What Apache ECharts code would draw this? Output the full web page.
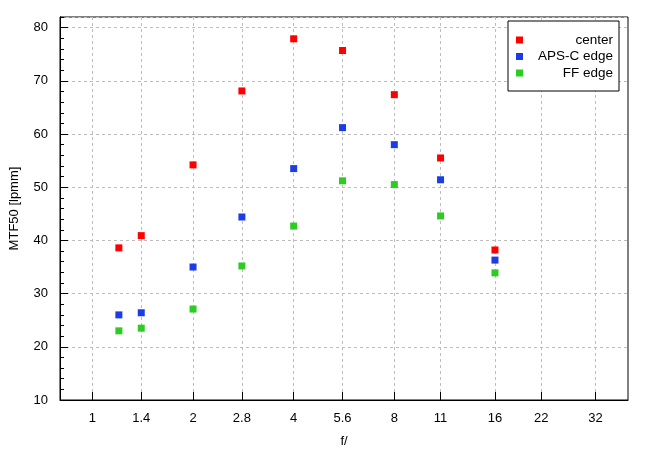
<!DOCTYPE html>
<html><head><meta charset="utf-8">
<script src="https://cdn.jsdelivr.net/npm/echarts@6/dist/echarts.min.js"></script>
<style>html,body{margin:0;padding:0;background:#fff}#c{width:650px;height:455px}</style>
</head><body><div id="c"></div>
<script>
const apertures = [1.2, 1.4, 2, 2.8, 4, 5.6, 8, 11, 16];
const centerValues = [38.6, 40.9, 54.2, 68.1, 77.9, 75.7, 67.4, 55.5, 38.2];
const apscValues = [26.0, 26.4, 35.0, 44.4, 53.5, 61.2, 58.0, 51.4, 36.3];
const ffValues = [23.0, 23.5, 27.1, 35.2, 42.7, 51.2, 50.5, 44.6, 33.9];
const xTicks = [1, 1.4, 2, 2.8, 4, 5.6, 8, 11, 16, 22, 32];
const xTickLabels = ['1', '1.4', '2', '2.8', '4', '5.6', '8', '11', '16', '22', '32'];
const seriesNames = ['center', 'APS-C edge', 'FF edge'];
const seriesColors = ['#ff0000', '#1c3ce6', '#2ccc22'];

const FONT = 'Liberation Sans';
const FS = 13;
const chart = echarts.init(document.getElementById('c'));
const allValues = [centerValues, apscValues, ffValues];
const gridLine = { show: true, lineStyle: { color: '#bdbdbd', width: 1, type: [3, 3] } };

chart.setOption({
  animation: false,
  backgroundColor: '#fff',
  textStyle: { fontFamily: FONT },
  grid: { left: 60, right: 22, top: 17, bottom: 55, show: true, borderColor: '#000', borderWidth: 1, backgroundColor: 'transparent' },
  legend: {
    orient: 'vertical', left: 508, top: 21,
    padding: [12, 6, 11, 8], itemGap: 2.5, itemWidth: 7, itemHeight: 7,
    icon: 'rect', backgroundColor: '#fff', borderColor: '#000', borderWidth: 1, borderRadius: 0,
    data: seriesNames,
    itemStyle: { opacity: 1 },
    formatter: n => '{a|' + n + '}',
    textStyle: { rich: { a: { width: 85, align: 'right', fontSize: 13.5, fontFamily: FONT, color: '#000', lineHeight: 13 } } }
  },
  xAxis: {
    type: 'log', logBase: 2, min: 0.8, max: 40,
    name: 'f/', nameLocation: 'middle', nameGap: 35,
    nameTextStyle: { fontSize: FS, fontFamily: FONT, color: '#000' },
    axisLine: { show: true, lineStyle: { color: '#000', width: 1 } },
    axisTick: { show: true, inside: true, length: 8, customValues: xTicks, lineStyle: { color: '#000' } },
    axisLabel: {
      customValues: xTicks, margin: 12, fontSize: FS, fontFamily: FONT, color: '#000',
      formatter: v => { const i = xTicks.findIndex(t => Math.abs(t - v) / t < 1e-6); return i >= 0 ? xTickLabels[i] : ''; }
    },
    splitLine: gridLine,
    minorTick: { show: false }
  },
  yAxis: [{
    type: 'value', min: 10, max: 82, interval: 10,
    name: 'MTF50 [lpmm]', nameLocation: 'middle', nameGap: 39,
    nameTextStyle: { fontSize: FS, fontFamily: FONT, color: '#000' },
    axisLine: { show: true, lineStyle: { color: '#000', width: 1 } },
    axisTick: { show: true, inside: true, length: 8, lineStyle: { color: '#000' } },
    axisLabel: { showMaxLabel: false, margin: 12, fontSize: FS, fontFamily: FONT, color: '#000' },
    splitLine: gridLine
  }, {
    type: 'value', min: 10, max: 82, interval: 2, position: 'left', offset: 0,
    axisLine: { show: true, lineStyle: { color: '#000', width: 1 } },
    axisTick: { show: true, inside: true, length: 4, lineStyle: { color: '#000' } },
    axisLabel: { show: false },
    splitLine: { show: false }
  }],
  series: seriesNames.map((name, k) => ({
    name, type: 'scatter', symbol: 'rect', symbolSize: 7,
    itemStyle: { color: seriesColors[k], opacity: 1 },
    data: apertures.map((a, i) => [a, allValues[k][i]])
  }))
});
</script></body></html>
